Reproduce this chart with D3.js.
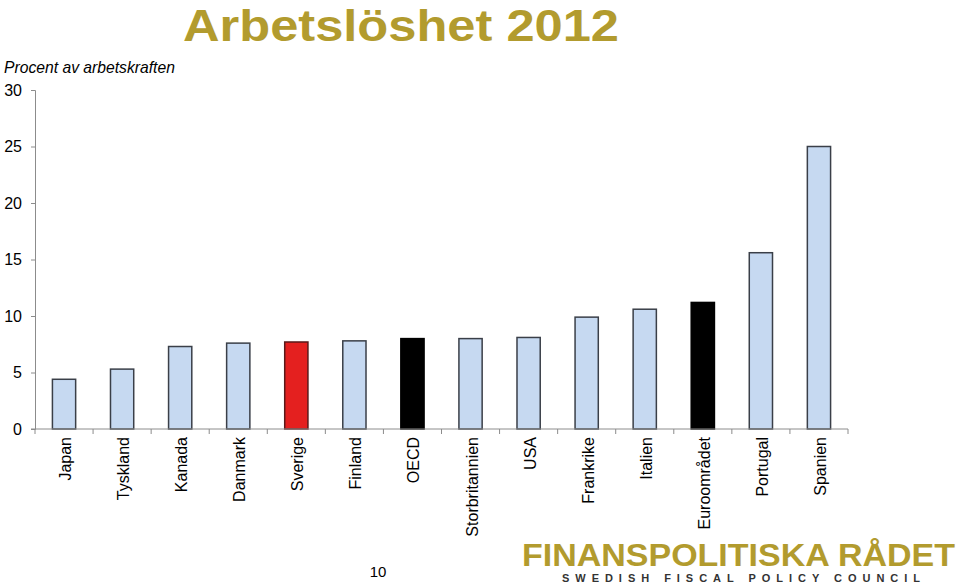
<!DOCTYPE html>
<html><head><meta charset="utf-8">
<script src="https://cdn.jsdelivr.net/npm/d3@7"></script>
<style>body{margin:0;background:#fff;} svg{display:block;font-family:Arial,"Liberation Sans",sans-serif;}</style>
</head><body>
<svg id="c" width="960" height="585"></svg>
<script>
const categories = ["Japan","Tyskland","Kanada","Danmark","Sverige","Finland","OECD","Storbritannien","USA","Frankrike","Italien","Euroområdet","Portugal","Spanien"];
const values = [4.4, 5.3, 7.3, 7.6, 7.7, 7.8, 8.0, 8.0, 8.1, 9.9, 10.6, 11.2, 15.6, 25.0];
const highlight = {"Sverige":"#e4201f","OECD":"#000000","Euroområdet":"#000000"};
const yTicks = [0,5,10,15,20,25,30];

const svg = d3.select("#c");
const m = {l:35, r:848, t:90, b:429};
const x = d3.scaleBand().domain(categories).range([m.l, m.r]).paddingInner(0.6).paddingOuter(0.3);
const xb = d3.scaleBand().domain(categories).range([m.l, m.r]);
const y = d3.scaleLinear().domain([0,30]).range([m.b, m.t]);

svg.append("text").attr("x",401).attr("y",40.5).attr("text-anchor","middle")
  .attr("font-size",45).attr("font-weight","bold").attr("fill","#b29b2e")
  .attr("textLength",436).attr("lengthAdjust","spacingAndGlyphs").text("Arbetslöshet 2012");
svg.append("text").attr("x",4).attr("y",73).attr("font-size",15.7).attr("font-style","italic").attr("fill","#000").text("Procent av arbetskraften");

// bars
svg.append("g").selectAll("rect").data(categories).join("rect")
  .attr("x", d=>x(d)).attr("width", x.bandwidth())
  .attr("y", (d,i)=>y(values[i])).attr("height",(d,i)=>y(0)-y(values[i]))
  .attr("fill", d=>highlight[d]||"#c6d9f1")
  .attr("stroke", d=>highlight[d]==="#e4201f"?"#5a1a1a":(highlight[d]?"#000":"#3a3f48")).attr("stroke-width",1.5);

// y axis
const ya = svg.append("g").attr("transform",`translate(${m.l},0)`)
  .call(d3.axisLeft(y).tickValues(yTicks).tickSize(4).tickPadding(9));
ya.select(".domain").attr("stroke","#8c8c8c");
ya.selectAll(".tick line").attr("stroke","#8c8c8c");
ya.selectAll(".tick text").attr("font-size",16).attr("fill","#000").attr("font-family","Arial, 'Liberation Sans', sans-serif");

// x axis line + ticks at band boundaries
const xg = svg.append("g");
xg.append("line").attr("x1",m.l-4).attr("x2",m.r).attr("y1",m.b).attr("y2",m.b).attr("stroke","#8c8c8c");
xg.selectAll("line.t").data(categories.concat(["_end"])).join("line").attr("class","t")
  .attr("x1",(d,i)=>m.l+i*xb.step()).attr("x2",(d,i)=>m.l+i*xb.step())
  .attr("y1",m.b).attr("y2",m.b+5).attr("stroke","#8c8c8c");
xg.selectAll("text").data(categories).join("text")
  .attr("transform", d=>`translate(${xb(d)+xb.bandwidth()/2+7},${m.b+8}) rotate(-90)`)
  .attr("text-anchor","end").attr("font-size",16).attr("fill","#000").text(d=>d);

// page number
svg.append("text").attr("x",378).attr("y",577).attr("text-anchor","middle").attr("font-size",15).text("10");

// logo
svg.append("text").attr("transform","translate(522,566) scale(1,1.18)").attr("font-size",27).attr("font-weight","bold")
  .attr("fill","#b29b2e").attr("textLength",433).attr("lengthAdjust","spacingAndGlyphs")
  .text("FINANSPOLITISKA RÅDET");
svg.append("text").attr("x",562).attr("y",582).attr("font-size",11).attr("font-weight","bold")
  .attr("fill","#333").attr("textLength",358).attr("lengthAdjust","spacing").text("SWEDISH FISCAL POLICY COUNCIL");
</script>
</body></html>
